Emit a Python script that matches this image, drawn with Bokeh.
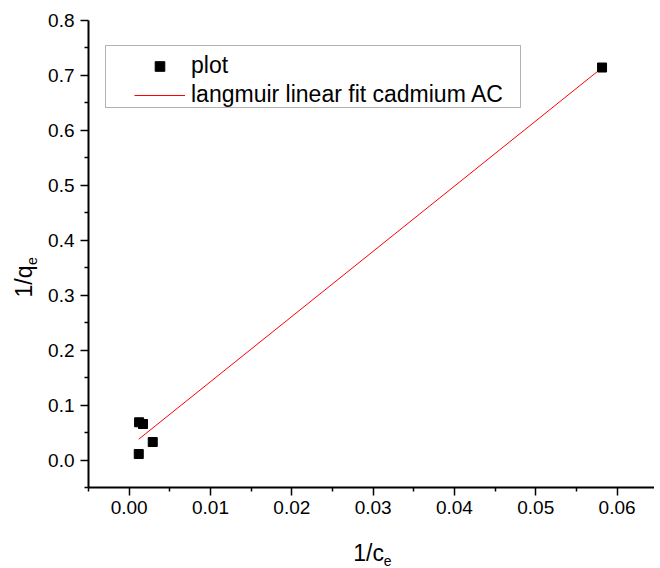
import math
from bokeh.plotting import figure
from bokeh.layouts import row, column
from bokeh.models import (Legend, LegendItem, FixedTicker, NumeralTickFormatter,
                          BoxAnnotation)
from bokeh.core.properties import value
from bokeh.embed import file_html
from bokeh.resources import INLINE

# ---- data ----
inv_ce = [0.00122, 0.00170, 0.00118, 0.00290, 0.05815]
inv_qe = [0.0687, 0.0656, 0.0109, 0.0328, 0.7144]
fit_x = [0.00118, 0.05815]
fit_y = [0.0379, 0.7139]

x_ticks = [0.00, 0.01, 0.02, 0.03, 0.04, 0.05, 0.06]
x_minor = [-0.005, 0.005, 0.015, 0.025, 0.035, 0.045, 0.055]
y_ticks = [0.0, 0.1, 0.2, 0.3, 0.4, 0.5, 0.6, 0.7, 0.8]
y_minor = [-0.05, 0.05, 0.15, 0.25, 0.35, 0.45, 0.55, 0.65, 0.75]

series_labels = ["plot", "langmuir linear fit cadmium AC"]
x_title, y_title, sub = "1/c", "1/q", "e"

FONT = "Liberation Sans"
LEFT_STRIP = 42
BORDER_LEFT = 46

# ---- main plot ----
p = figure(width=612, height=528, x_range=(-0.005, 0.0646), y_range=(-0.05, 0.8),
           output_backend="svg", toolbar_location=None, title=None,
           min_border_left=BORDER_LEFT, min_border_right=0, min_border_top=20,
           min_border_bottom=41)
p.outline_line_color = None
p.grid.visible = False
p.background_fill_color = "white"
p.border_fill_color = "white"

fit = p.line(fit_x, fit_y, line_color="#ff0000", line_width=1)
pts = p.scatter(inv_ce, inv_qe, marker="square", size=9, fill_color="black",
                line_color="black", line_width=1)

for ax, ticks, minor, fmt, standoff in (
        (p.xaxis[0], x_ticks, x_minor, "0.00", 5),
        (p.yaxis[0], y_ticks, y_minor, "0.0", 6)):
    ax.ticker = FixedTicker(ticks=ticks, minor_ticks=minor)
    ax.formatter = NumeralTickFormatter(format=fmt)
    ax.axis_line_width = 2
    ax.axis_line_color = "black"
    ax.major_tick_line_width = 1.5
    ax.minor_tick_line_width = 1.5
    ax.major_tick_line_color = "black"
    ax.minor_tick_line_color = "black"
    ax.major_tick_in = 0
    ax.major_tick_out = 8
    ax.minor_tick_in = 0
    ax.minor_tick_out = 4
    ax.major_label_text_font = FONT
    ax.major_label_text_font_size = "19px"
    ax.major_label_text_color = "black"
    ax.major_label_standoff = standoff
    ax.axis_label = None

# legend frame
p.add_layout(BoxAnnotation(left=17, right=432, top=442, bottom=380,
                           left_units="screen", right_units="screen",
                           top_units="screen", bottom_units="screen",
                           fill_color="white", fill_alpha=1.0,
                           line_color="black", line_width=1, level="overlay"))

legend = Legend(items=[LegendItem(label=series_labels[0], renderers=[pts]),
                       LegendItem(label=series_labels[1], renderers=[fit])],
                location=(39, 372), padding=7, spacing=2, margin=0,
                glyph_width=51, glyph_height=24, label_standoff=6,
                label_text_font=FONT, label_text_font_size="23px",
                label_text_color="black",
                border_line_alpha=0, background_fill_alpha=0)
p.add_layout(legend)


def text_panel(w, h, xr, yr, border_left=0):
    f = figure(width=w, height=h, x_range=xr, y_range=yr, title=None,
               x_axis_type=None, y_axis_type=None, output_backend="svg",
               toolbar_location=None, min_border=0, min_border_left=border_left)
    f.outline_line_color = None
    f.background_fill_color = "white"
    f.border_fill_color = "white"
    f.grid.visible = False
    return f


# ---- y axis title (left strip; coordinates are page pixels) ----
left = text_panel(LEFT_STRIP, 568, (0, LEFT_STRIP), (568, 0))
left.text(x=[23], y=[281], text=[y_title], angle=math.pi / 2,
          text_font=value(FONT), text_font_size=value("23px"), text_color="black",
          text_align="center", text_baseline="middle")
left.text(x=[31.5], y=[260.5], text=[sub], angle=math.pi / 2,
          text_font=value(FONT), text_font_size=value("14px"), text_color="black",
          text_align="center", text_baseline="middle")

# ---- x axis title (bottom strip; coordinates are page pixels) ----
bottom = text_panel(612, 40, (88, 660), (568, 528), border_left=BORDER_LEFT)
bottom.text(x=[355.5], y=[552.5], text=[x_title],
            text_font=value(FONT), text_font_size=value("23px"), text_color="black",
            text_align="left", text_baseline="alphabetic")
bottom.text(x=[386.5], y=[560.5], text=[sub],
            text_font=value(FONT), text_font_size=value("14px"), text_color="black",
            text_align="left", text_baseline="alphabetic")

layout = row(left, column(p, bottom, spacing=0), spacing=0)

open("out.html", "w").write(file_html(layout, INLINE))
